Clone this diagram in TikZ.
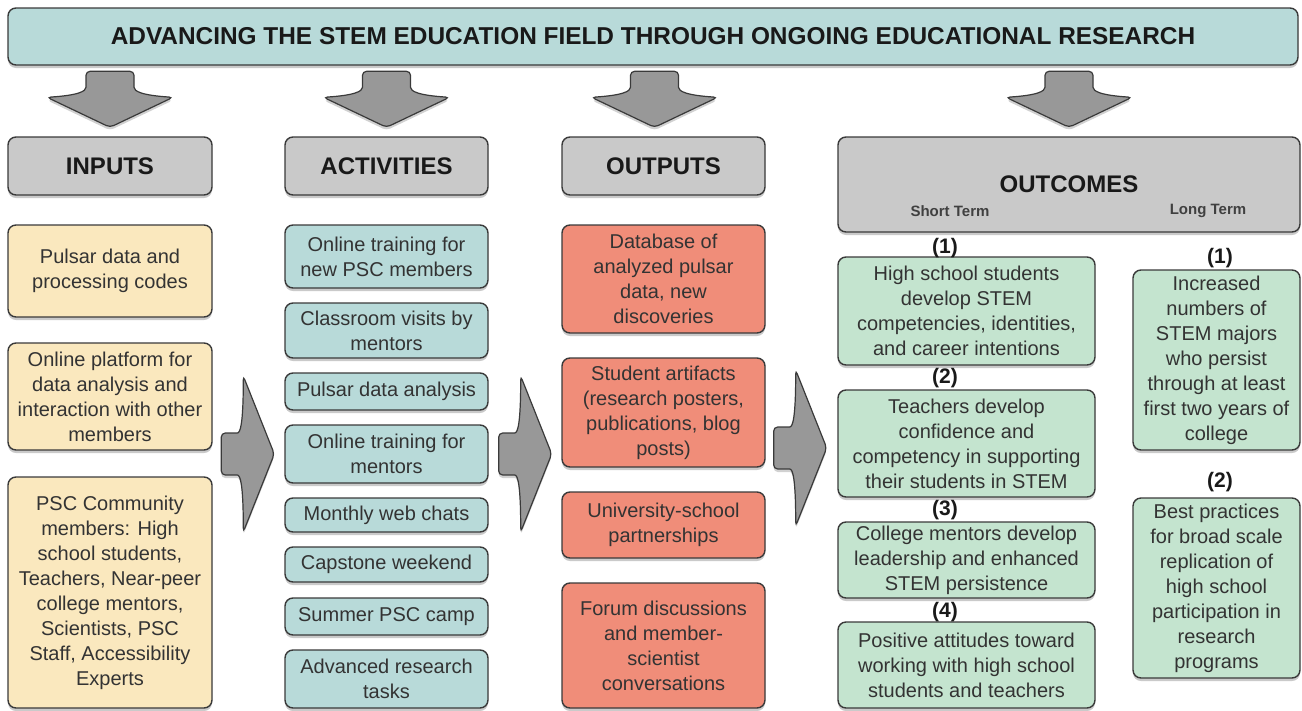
\documentclass[tikz,border=0pt]{standalone}
\usepackage{fontspec}
\setmainfont{Liberation Sans}
\usetikzlibrary{shadows}

\definecolor{tealfill}{RGB}{184,218,217}
\definecolor{headfill}{RGB}{201,201,201}
\definecolor{infill}{RGB}{250,232,190}
\definecolor{outfill}{RGB}{240,141,121}
\definecolor{ocfill}{RGB}{196,228,207}
\definecolor{arrowfill}{RGB}{152,152,152}
\definecolor{edge}{RGB}{58,58,58}

\tikzset{
	box/.style={
		draw=edge
		,line width=1.4pt
		,rounded corners=8pt
		,align=center
		,inner sep=1pt
		,text=black!80
		,font=\fontsize{20}{25}\selectfont
		,drop shadow={shadow xshift=0pt,shadow yshift=-3pt,opacity=0.35,fill=black!60}
	}
	,head/.style={box,fill=headfill,text=black!90,font=\fontsize{24}{28}\selectfont\bfseries}
	,inbox/.style={box,fill=infill,minimum width=204}
	,actbox/.style={box,fill=tealfill,minimum width=203}
	,outbox/.style={box,fill=outfill,minimum width=203}
	,ocbox/.style={box,fill=ocfill}
	,numlabel/.style={inner sep=0,text=black!90,font=\fontsize{21}{24}\selectfont\bfseries}
	,termlabel/.style={inner sep=0,text=black!75,font=\fontsize{15}{18}\selectfont\bfseries}
	,blockarrow/.style={
		draw=edge
		,line width=1.2pt
		,fill=arrowfill
		,rounded corners=4pt
		,drop shadow={shadow xshift=0pt,shadow yshift=-3pt,opacity=0.3,fill=black!60}
	}
	,darrow/.pic={
		\draw[blockarrow] (-24,-65) -- (-24,-53) .. controls (-24,-45) and (-32,-41) .. (-63,-39) -- (0,-9) -- (63,-39) .. controls (32,-41) and (24,-45) .. (24,-53) -- (24,-65) -- cycle;
	}
	,rarrow/.pic={
		\draw[blockarrow] (0,-21) -- (12,-21) .. controls (19,-21) and (22,-30) .. (22,-78) -- (53,0) -- (22,78) .. controls (22,30) and (19,21) .. (12,21) -- (0,21) -- cycle;
	}
}

\begin{document}
\begin{tikzpicture}[x=1pt,y=-1pt]
\useasboundingbox (0,0) rectangle (1302,710);

% banner and column heads
\node[box,fill=tealfill,minimum width=1290,minimum height=57,text=black!90,font=\fontsize{24.4}{28}\selectfont\bfseries](title) at(653,36.5) {ADVANCING THE STEM EDUCATION FIELD THROUGH ONGOING EDUCATIONAL RESEARCH};

\node[head,minimum width=204,minimum height=58](hin) at(110,166) {INPUTS};
\node[head,minimum width=203,minimum height=58](hact) at(386.5,166) {ACTIVITIES};
\node[head,minimum width=203,minimum height=58](hout) at(663.5,166) {OUTPUTS};
\node[head,minimum width=462,minimum height=95](hoc) at(1069,184.5) {OUTCOMES};
\node[termlabel](short) at(950,211) {Short Term};
\node[termlabel](long) at(1208,211) {Long Term};

\foreach \h/\dx in {hin/0,hact/0,hout/-9,hoc/0}{
	\pic at([xshift=\dx pt]\h.north) {darrow};
}

% inputs
\node[inbox,minimum height=92](in1) at(110,271) {Pulsar data and\\processing codes};
\node[inbox,minimum height=107](in2) at(110,396.5) {Online platform for\\data analysis and\\interaction with other\\members};
\node[inbox,minimum height=231](in3) at(110,592.5) {PSC Community\\members: High\\school students,\\Teachers, Near-peer\\college mentors,\\Scientists, PSC\\Staff, Accessibility\\Experts};

% activities
\foreach \n/\y/\h/\t in {
	act1/256.5/63/{Online training for\\new PSC members}%
	,act2/330.5/55/{Classroom visits by\\mentors}%
	,act3/391.5/37/{Pulsar data analysis}%
	,act4/454/58/{Online training for\\mentors}%
	,act5/515/34/{Monthly web chats}%
	,act6/564.5/35/{Capstone weekend}%
	,act7/616.5/37/{Summer PSC camp}%
	,act8/679/58/{Advanced research\\tasks}%
}{
	\node[actbox,minimum height=\h](\n) at(386.5,\y) {\t};
}

% outputs
\node[outbox,minimum height=108](out1) at(663.5,279) {Database of\\analyzed pulsar\\data, new\\discoveries};
\node[outbox,minimum height=109](out2) at(663.5,412.5) {Student artifacts\\(research posters,\\publications, blog\\posts)};
\node[outbox,minimum height=66](out3) at(663.5,525) {University-school\\partnerships};
\node[outbox,minimum height=125](out4) at(663.5,645.5) {Forum discussions\\and member-\\scientist\\conversations};

% outcomes, short term
\node[ocbox,minimum width=257,minimum height=108](st1) at(966.5,311) {High school students\\develop STEM\\competencies, identities,\\and career intentions};
\node[ocbox,minimum width=257,minimum height=107](st2) at(966.5,443.5) {Teachers develop\\confidence and\\competency in supporting\\their students in STEM};
\node[ocbox,minimum width=257,minimum height=76](st3) at(966.5,560) {College mentors develop\\leadership and enhanced\\STEM persistence};
\node[ocbox,minimum width=257,minimum height=86](st4) at(966.5,665) {Positive attitudes toward\\working with high school\\students and teachers};
\node[numlabel](s1) at(945,248) {(1)};
\node[numlabel](s2) at(945,378) {(2)};
\node[numlabel](s3) at(945,510) {(3)};
\node[numlabel](s4) at(945,612) {(4)};

% outcomes, long term
\node[ocbox,minimum width=167,minimum height=180](lt1) at(1216.5,360) {Increased\\numbers of\\STEM majors\\who persist\\through at least\\first two years of\\college};
\node[ocbox,minimum width=167,minimum height=180](lt2) at(1216.5,588) {Best practices\\for broad scale\\replication of\\high school\\participation in\\research\\programs};
\node[numlabel](l1) at(1220,258) {(1)};
\node[numlabel](l2) at(1220,482) {(2)};

% arrows between columns
\pic at([xshift=-63pt]act4.west) {rarrow};
\pic at([xshift=10pt]act4.east) {rarrow};
\pic at([xshift=8pt,yshift=6pt]out2.east |- act4.east) {rarrow};

\end{tikzpicture}
\end{document}
